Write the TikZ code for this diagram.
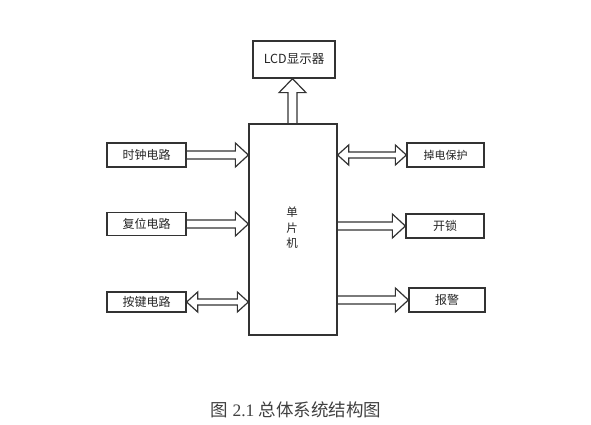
\documentclass[tikz,border=0pt]{standalone}
\usepackage{fontspec}
\setmainfont{Liberation Serif}
\newfontfamily\cjk{Noto Sans CJK SC}
\usetikzlibrary{calc}
\definecolor{ln}{HTML}{333333}
\tikzset{
  box/.style={draw=ln, line width=1.3pt, fill=white, inner sep=0pt, font=\cjk\fontsize{12}{13}\selectfont, text=black!85},
  blk/.style={draw=ln, line width=1.2pt, line join=miter},
}
% single right-pointing block arrow from #1 to #2 (same y)
\newcommand\blkright[2]{%
  \draw[blk] ($(#1)+(0,-4)$) -- ($(#2)+(-13,-4)$) -- ($(#2)+(-13,-12)$) -- (#2)
    -- ($(#2)+(-13,12)$) -- ($(#2)+(-13,4)$) -- ($(#1)+(0,4)$);}
% double block arrow between #1 (left) and #2 (right)
\newcommand\blkboth[2]{%
  \draw[blk] ($(#1)+(11,-3)$) -- ($(#2)+(-11,-3)$) -- ($(#2)+(-11,-10)$) -- (#2)
    -- ($(#2)+(-11,10)$) -- ($(#2)+(-11,3)$) -- ($(#1)+(11,3)$)
    -- ($(#1)+(11,10)$) -- (#1) -- ($(#1)+(11,-10)$) -- cycle;}
\begin{document}
\begin{tikzpicture}[x=1pt,y=-1pt]
\useasboundingbox (0,0) rectangle (591,425);
% main controller
\node[box, minimum width=88pt, minimum height=211pt] (mcu) at (293,229.5) {};
\node[font=\cjk\fontsize{11.5}{15.5}\selectfont, text=black!85, align=center] (mcul) at (292,228) {单\\片\\机};
% top display
\node[box, minimum width=82pt, minimum height=37pt, font=\cjk\fontsize{12.5}{14}\selectfont] (lcd) at (294,59.5) {LCD显示器};
% left inputs
\node[box, minimum width=79pt, minimum height=24pt] (clk) at (146.5,155) {时钟电路};
\node[box, minimum width=79pt, minimum height=23pt] (rst) at (146.5,224) {复位电路};
\node[box, minimum width=79pt, minimum height=20pt] (key) at (146.5,302) {按键电路};
% right outputs
\node[box, minimum width=77pt, minimum height=24pt, font=\cjk\fontsize{11}{12}\selectfont] (pd) at (445.5,155) {掉电保护};
\node[box, minimum width=78pt, minimum height=24pt] (lock) at (445,226) {开锁};
\node[box, minimum width=76pt, minimum height=24pt] (alarm) at (447,300) {报警};
% arrows
\blkright{clk.east}{clk.east -| mcu.west}
\blkright{rst.east}{rst.east -| mcu.west}
\blkboth{key.east}{key.east -| mcu.west}
\blkboth{pd.west -| mcu.east}{pd.west}
\blkright{lock.west -| mcu.east}{lock.west}
\blkright{alarm.west -| mcu.east}{alarm.west}
% up arrow to LCD
\coordinate (upbase) at (mcu.north -| 292.5,0);
\coordinate (uptip) at (lcd.south -| 292.5,0);
\draw[blk] ($(upbase)+(-4.5,0)$) -- ($(uptip)+(-4.5,14)$) -- ($(uptip)+(-13.5,14)$) -- (uptip)
  -- ($(uptip)+(13.5,14)$) -- ($(uptip)+(4.5,14)$) -- ($(upbase)+(4.5,0)$);
% caption
\node[font=\fontsize{17.5}{19}\selectfont, text=black!75] (cap) at (296,410) {{\cjk 图} 2.1 {\cjk 总体系统结构图}};
\end{tikzpicture}
\end{document}
